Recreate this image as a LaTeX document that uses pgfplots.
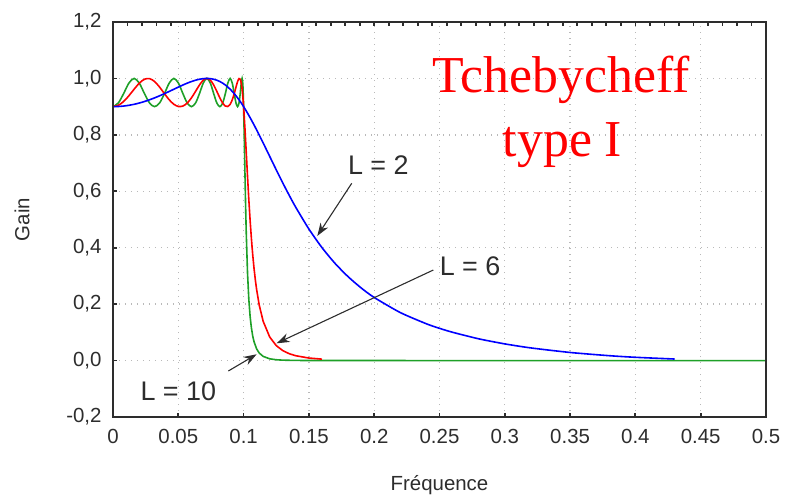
\documentclass[border=0pt]{standalone}
\usepackage{fontspec}
\setmainfont{Liberation Sans}
\newfontfamily\timesfont{Liberation Serif}
\usepackage{pgfplots}
\pgfplotsset{compat=1.18}
\usetikzlibrary{arrows.meta}
\definecolor{cgreen}{RGB}{30,160,40}
\definecolor{cblue}{RGB}{0,0,255}
\definecolor{cred}{RGB}{255,0,0}
\definecolor{axgray}{RGB}{45,45,45}
\definecolor{gridgray}{RGB}{185,185,185}

% passband (f, gain) -- Chebyshev type I, ripple to 0.9, cutoff 0.1
\pgfplotstableread{
f g2 g6 g10
0.100000 0.9000 0.9000 0.9000
0.099928 0.9005 0.9047 0.9128
0.099712 0.9021 0.9182 0.9461
0.099352 0.9047 0.9384 0.9833
0.098847 0.9083 0.9618 1.0000
0.098199 0.9128 0.9833 0.9833
0.097408 0.9182 0.9971 0.9461
0.096476 0.9243 0.9993 0.9128
0.095401 0.9311 0.9890 0.9000
0.094185 0.9384 0.9694 0.9128
0.092829 0.9461 0.9461 0.9461
0.091334 0.9539 0.9243 0.9833
0.089701 0.9618 0.9083 1.0000
0.087932 0.9694 0.9005 0.9833
0.086028 0.9767 0.9021 0.9461
0.083991 0.9833 0.9128 0.9128
0.081822 0.9890 0.9311 0.9000
0.079525 0.9937 0.9539 0.9128
0.077101 0.9971 0.9767 0.9461
0.074554 0.9993 0.9937 0.9833
0.071885 1.0000 1.0000 1.0000
0.069099 0.9993 0.9937 0.9833
0.066197 0.9971 0.9767 0.9461
0.063186 0.9937 0.9539 0.9128
0.060067 0.9890 0.9311 0.9000
0.056847 0.9833 0.9128 0.9128
0.053529 0.9767 0.9021 0.9461
0.050118 0.9694 0.9005 0.9833
0.046618 0.9618 0.9083 1.0000
0.043036 0.9539 0.9243 0.9833
0.039377 0.9461 0.9461 0.9461
0.035648 0.9384 0.9694 0.9128
0.031854 0.9311 0.9890 0.9000
0.028002 0.9243 0.9993 0.9128
0.024098 0.9182 0.9971 0.9461
0.020150 0.9128 0.9833 0.9833
0.016165 0.9083 0.9618 1.0000
0.012150 0.9047 0.9384 0.9833
0.008113 0.9021 0.9182 0.9461
0.004060 0.9005 0.9047 0.9128
0.000000 0.9000 0.9000 0.9000
}\passband

\pgfplotstableread{
f g
0.1 0.9
0.102 0.8849
0.104 0.8690
0.106 0.8524
0.108 0.8351
0.11 0.8173
0.115 0.7711
0.12 0.7236
0.125 0.6761
0.13 0.6296
0.135 0.5851
0.14 0.5428
0.15 0.4662
0.16 0.4004
0.17 0.3445
0.18 0.2974
0.19 0.2575
0.2 0.2236
0.22 0.1701
0.24 0.1303
0.25 0.1143
0.26 0.1003
0.28 0.0771
0.3 0.0591
0.32 0.0448
0.35 0.0287
0.38 0.0173
0.4 0.0116
0.43 0.0055
}\stoptwo

\pgfplotstableread{
f g
0.1 0.9
0.101 0.8258
0.102 0.7408
0.103 0.6536
0.104 0.5709
0.105 0.4961
0.106 0.4307
0.107 0.3744
0.108 0.3264
0.109 0.2856
0.11 0.2509
0.112 0.1959
0.115 0.1390
0.12 0.0834
0.125 0.0531
0.13 0.0353
0.135 0.0242
0.14 0.0171
0.15 0.0090
0.16 0.0051
}\stopsix

\pgfplotstableread{
f g
0.1 0.9
0.1005 0.7935
0.101 0.6724
0.1015 0.5571
0.102 0.4577
0.103 0.3108
0.104 0.2168
0.105 0.1558
0.106 0.1150
0.107 0.0867
0.108 0.0667
0.11 0.0412
0.112 0.0266
0.115 0.0148
0.12 0.0062
0.125 0.0029
0.13 0.0015
0.14 0.0005
0.16 0.0001
0.5 0
}\stopten

\begin{document}
\begin{tikzpicture}
\begin{axis}[
  width=653bp, height=395bp, scale only axis,
  xmin=0, xmax=0.5, ymin=-0.2, ymax=1.2,
  xtick={0,0.05,0.1,0.15,0.2,0.25,0.3,0.35,0.4,0.45,0.5},
  ytick={-0.2,0,0.2,0.4,0.6,0.8,1,1.2},
  tick pos=left, tick align=inside, major tick length=4bp,
  tick style={axgray, line width=1.8bp},
  axis line style={axgray, line width=1.6bp},
  grid=major,
  major grid style={gridgray, line width=1.3bp, dash pattern=on 1.3bp off 4.7bp},
  ticklabel style={font=\fontsize{20.5}{24}\selectfont, text=axgray},
  xticklabel style={/pgf/number format/fixed, /pgf/number format/precision=2,
     /pgf/number format/assume math mode=true, yshift=-9bp},
  yticklabel style={/pgf/number format/fixed, /pgf/number format/fixed zerofill,
     /pgf/number format/precision=1, /pgf/number format/use comma,
     /pgf/number format/assume math mode=true, xshift=-8bp},
  xlabel={Fréquence}, ylabel={Gain},
  label style={font=\fontsize{20.5}{24}\selectfont, text=axgray},
  xlabel style={at={(axis description cs:0.5,-0.1722)}, anchor=center},
  ylabel style={at={(axis description cs:-0.1394,0.5)}, anchor=center},
  clip=false,
]
\path (rel axis cs:-0.17305,-0.20506) rectangle (rel axis cs:1.03216,1.05570);

\addplot[cgreen, line width=1.6bp, smooth, tension=0.5] table[x=f, y=g10] {\passband};
\addplot[cgreen, line width=1.6bp] table[x=f, y=g] {\stopten};
\addplot[cred, line width=1.6bp, smooth, tension=0.5] table[x=f, y=g6] {\passband};
\addplot[cred, line width=1.6bp] table[x=f, y=g] {\stopsix};
\addplot[cblue, line width=1.6bp, smooth, tension=0.5] table[x=f, y=g2] {\passband};
\addplot[cblue, line width=1.6bp, smooth, tension=0.4] table[x=f, y=g] {\stoptwo};

\node[font=\timesfont\fontsize{52}{60}\selectfont, text=cred, anchor=base] at (axis cs:0.3434,0.9488) {Tchebycheff};
\node[font=\timesfont\fontsize{52}{60}\selectfont, text=cred, anchor=base] at (axis cs:0.3442,0.7218) {type I};

\node[font=\fontsize{27}{30}\selectfont, text=axgray] at (axis cs:0.2032,0.6931) {L = 2};
\node[font=\fontsize{27}{30}\selectfont, text=axgray] at (axis cs:0.2734,0.3330) {L = 6};
\node[font=\fontsize{27}{30}\selectfont, text=axgray] at (axis cs:0.0500,-0.1103) {L = 10};

\draw[axgray, line width=1.1bp, -{Stealth[length=13bp, width=9bp]}] (axis cs:0.1828,0.6284) -- (axis cs:0.1564,0.4416);
\draw[axgray, line width=1.1bp, -{Stealth[length=13bp, width=9bp]}] (axis cs:0.2453,0.3210) -- (axis cs:0.1253,0.0612);
\draw[axgray, line width=1.1bp, -{Stealth[length=13bp, width=9bp]}] (axis cs:0.0883,-0.0370) -- (axis cs:0.1100,0.0223);
\end{axis}
\begin{axis}[
  width=653bp, height=395bp, scale only axis,
  xmin=0, xmax=0.5, ymin=-0.2, ymax=1.2,
  axis line style={axgray, line width=1.6bp},
  xtick={0,0.011111,0.022222,0.033333,0.044444,0.055556,0.066667,0.077778,0.088889,0.1,
         0.111111,0.122222,0.133333,0.144444,0.155556,0.166667,0.177778,0.188889,0.2,
         0.211111,0.222222,0.233333,0.244444,0.255556,0.266667,0.277778,0.288889,0.3,
         0.311111,0.322222,0.333333,0.344444,0.355556,0.366667,0.377778,0.388889,0.4,
         0.411111,0.422222,0.433333,0.444444,0.455556,0.466667,0.477778,0.488889},
  xticklabels={}, ytick=\empty,
  xtick pos=right,
  tick align=inside, major tick length=4bp,
  every tick/.style={axgray, line width=1.8bp},
]
\end{axis}
\end{tikzpicture}
\end{document}
